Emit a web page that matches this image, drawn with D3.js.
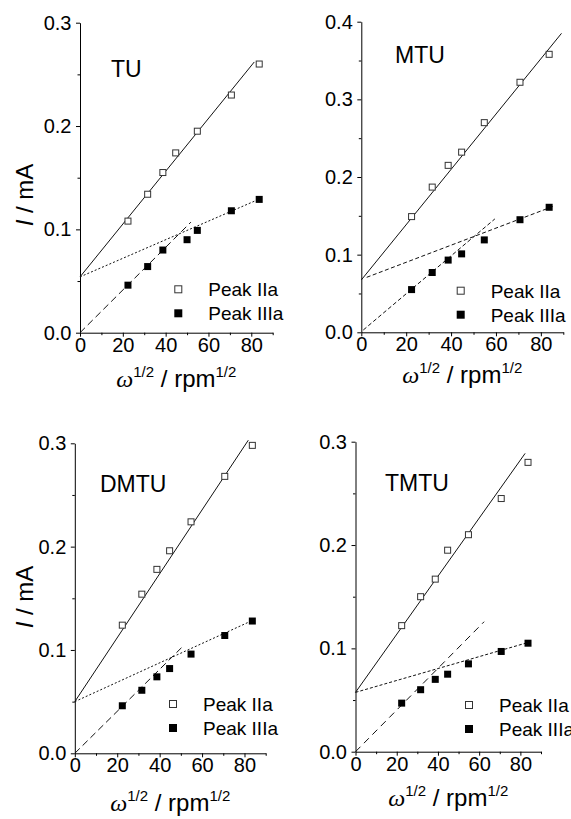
<!DOCTYPE html>
<html lang="en">
<head>
<meta charset="utf-8">
<title>Levich plots: TU, MTU, DMTU, TMTU</title>
<script src="https://cdn.jsdelivr.net/npm/d3@7"></script>
<style>
body { margin: 0; background: #fff; }
svg { display: block; }
text { font-family: "Liberation Sans", Arial, sans-serif; fill: #000; }
</style>
</head>
<body>
<script>
// omega^1/2 (rpm^1/2) for 500 ... 7000 rpm
var rootRpm = [22.4, 31.6, 38.7, 44.7, 54.8, 70.7, 83.7];
var rootRpmTU = [22.4, 31.6, 38.7, 50.0, 54.8, 70.7, 83.7];

// peak currents, mA
var tuIIa = [0.108, 0.134, 0.155, 0.174, 0.195, 0.230, 0.260];
var tuIIIa = [0.046, 0.064, 0.080, 0.090, 0.099, 0.118, 0.129];
var mtuIIa = [0.149, 0.187, 0.215, 0.232, 0.270, 0.322, 0.358];
var mtuIIIa = [0.055, 0.077, 0.093, 0.101, 0.119, 0.145, 0.161];
var dmtuIIa = [0.124, 0.154, 0.178, 0.196, 0.224, 0.268, 0.298];
var dmtuIIIa = [0.046, 0.061, 0.074, 0.082, 0.096, 0.114, 0.128];
var tmtuIIa = [0.122, 0.150, 0.167, 0.195, 0.210, 0.245, 0.280];
var tmtuIIIa = [0.047, 0.060, 0.070, 0.075, 0.085, 0.097, 0.105];

// fitted lines: [start, end] in data units
var tuSolid = [[0, 0.054], [81.4, 0.262]];
var tuShort = [[0, 0.054], [85.6, 0.131]];
var tuLong = [[0, 0], [51.8, 0.107]];
var mtuSolid = [[0, 0.0674], [89.2, 0.385]];
var mtuShort = [[2.4, 0.0708], [86.2, 0.163]];
var mtuLong = [[0.9, 0.003], [59.5, 0.146]];
var dmtuSolid = [[0, 0.05], [81.8, 0.303]];
var dmtuShort = [[0, 0.05], [84.2, 0.129]];
var dmtuLong = [[0, 0], [51.2, 0.104]];
var tmtuSolid = [[0, 0.0574], [82.3, 0.2887]];
var tmtuShort = [[0, 0.0574], [83.4, 0.1055]];
var tmtuLong = [[0, 0], [62.4, 0.1258]];

var names = ["TU", "MTU", "DMTU", "TMTU"];
var legendLabels = ["Peak IIa", "Peak IIIa"];
var xTicks = [0, 20, 40, 60, 80];
var xMinor = [10, 30, 50, 70, 90];
var yTicks3 = [0, 0.1, 0.2, 0.3];
var yMinor3 = [0.05, 0.15, 0.25];
var yTicks4 = [0, 0.1, 0.2, 0.3, 0.4];
var yMinor4 = [0.05, 0.15, 0.25, 0.35];

var panels = [
    {name: names[0], xIIa: rootRpm, xIIIa: rootRpmTU, IIa: tuIIa, IIIa: tuIIIa,
     fits: [tuSolid, tuShort, tuLong], yMax: 0.3, yTicks: yTicks3, yMinor: yMinor3},
    {name: names[1], xIIa: rootRpm, xIIIa: rootRpm, IIa: mtuIIa, IIIa: mtuIIIa,
     fits: [mtuSolid, mtuShort, mtuLong], yMax: 0.4, yTicks: yTicks4, yMinor: yMinor4},
    {name: names[2], xIIa: rootRpm, xIIIa: rootRpm, IIa: dmtuIIa, IIIa: dmtuIIIa,
     fits: [dmtuSolid, dmtuShort, dmtuLong], yMax: 0.3, yTicks: yTicks3, yMinor: yMinor3},
    {name: names[3], xIIa: rootRpm, xIIIa: rootRpm, IIa: tmtuIIa, IIIa: tmtuIIIa,
     fits: [tmtuSolid, tmtuShort, tmtuLong], yMax: 0.3, yTicks: yTicks3, yMinor: yMinor3}
];

// page layout of each panel
var layout = [
    {x0: 80, x1: 272.7, y0: 332.7, y1: 22.7, label: [111, 77], leg: [178.3, 289.3],
     xTitle: 387, yTitle: [33, 195], dashes: [null, "2,2", "7,4"]},
    {x0: 361.3, x1: 563.3, y0: 332.3, y1: 21.7, label: [395, 63], leg: [460.7, 290.7],
     xTitle: 383, yTitle: null, dashes: [null, "4,2.5", "4,2.5"]},
    {x0: 74.8, x1: 265.7, y0: 753.3, y1: 443.3, label: [100, 492], leg: [173, 704],
     xTitle: 811, yTitle: [33, 597], dashes: [null, "2,2", "7,4"]},
    {x0: 355.5, x1: 541, y0: 751.7, y1: 441.7, label: [385, 491], leg: [469, 705],
     xTitle: 806, yTitle: null, dashes: [null, "3,2", "7,5"]}
];

var w = 571, h = 819;

var svg = d3.select("body")
    .append("svg")
    .attr("width", w)
    .attr("height", h);

var line = d3.line();

panels.forEach(function(p, i) {
    var L = layout[i];
    var x = d3.scaleLinear().domain([0, 90]).range([L.x0, L.x1]);
    var y = d3.scaleLinear().domain([0, p.yMax]).range([L.y0, L.y1]);

    var g = svg.append("g");

    // minor ticks first, then major axis with labels
    g.append("g")
        .attr("transform", "translate(0," + L.y0 + ")")
        .call(d3.axisBottom(x).tickValues(xMinor).tickSize(2.5).tickFormat(""))
        .call(function(a) { a.select(".domain").remove(); });
    g.append("g")
        .attr("transform", "translate(" + L.x0 + ",0)")
        .call(d3.axisLeft(y).tickValues(p.yMinor).tickSize(2.5).tickFormat(""))
        .call(function(a) { a.select(".domain").remove(); });

    var xa = g.append("g")
        .attr("transform", "translate(0," + L.y0 + ")")
        .call(d3.axisBottom(x).tickValues(xTicks).tickSize(4).tickSizeOuter(0).tickPadding(1).tickFormat(d3.format("d")));
    var ya = g.append("g")
        .attr("transform", "translate(" + L.x0 + ",0)")
        .call(d3.axisLeft(y).tickValues(p.yTicks).tickSize(4).tickSizeOuter(0).tickPadding(4.5).tickFormat(d3.format(".1f")));

    g.selectAll(".tick line, .domain").attr("stroke", "#000").attr("stroke-width", 1);
    [xa, ya].forEach(function(a) {
        a.selectAll("text")
            .style("font-family", "'Liberation Sans', Arial, sans-serif")
            .style("font-size", "20px")
            .attr("fill", "#000");
    });

    // fit lines
    p.fits.forEach(function(f, k) {
        g.append("path")
            .attr("d", line(f.map(function(d) { return [x(d[0]), y(d[1])]; })))
            .attr("fill", "none")
            .attr("stroke", "#111")
            .attr("stroke-width", 1)
            .attr("stroke-dasharray", L.dashes[k]);
    });

    // Peak IIa, open squares
    g.selectAll("rect.iia")
        .data(p.IIa)
        .enter()
        .append("rect")
        .attr("class", "iia")
        .attr("x", function(d, j) { return x(p.xIIa[j]) - 3; })
        .attr("y", function(d) { return y(d) - 3; })
        .attr("width", 6)
        .attr("height", 6)
        .attr("fill", "#fff")
        .attr("stroke", "#333")
        .attr("stroke-width", 1);

    // Peak IIIa, filled squares
    g.selectAll("rect.iiia")
        .data(p.IIIa)
        .enter()
        .append("rect")
        .attr("class", "iiia")
        .attr("x", function(d, j) { return x(p.xIIIa[j]) - 3.5; })
        .attr("y", function(d) { return y(d) - 3.5; })
        .attr("width", 7)
        .attr("height", 7)
        .attr("fill", "#000");

    // compound name
    g.append("text")
        .attr("x", L.label[0])
        .attr("y", L.label[1])
        .style("font-size", "23px")
        .text(p.name);

    // legend
    legendLabels.forEach(function(lab, k) {
        var cy = L.leg[1] + k * 24;
        if (k === 0) {
            g.append("rect")
                .attr("x", L.leg[0] - 3.5).attr("y", cy - 3.5)
                .attr("width", 7).attr("height", 7)
                .attr("fill", "#fff").attr("stroke", "#333");
        } else {
            g.append("rect")
                .attr("x", L.leg[0] - 4).attr("y", cy - 4)
                .attr("width", 8).attr("height", 8)
                .attr("fill", "#000");
        }
        g.append("text")
            .attr("x", L.leg[0] + 30)
            .attr("y", cy + 6.8)
            .style("font-size", "19px")
            .text(lab);
    });

    // x title: omega^1/2 / rpm^1/2
    var xt = g.append("text")
        .attr("x", (L.x0 + L.x1) / 2)
        .attr("y", L.xTitle)
        .attr("text-anchor", "middle")
        .style("font-size", "24px");
    xt.append("tspan")
        .style("font-family", "'Liberation Serif', 'Times New Roman', serif")
        .style("font-style", "italic")
        .text("\u03c9");
    xt.append("tspan").attr("dy", -10).style("font-size", "15px").text("1/2");
    xt.append("tspan").attr("dy", 10).text(" / rpm");
    xt.append("tspan").attr("dy", -10).style("font-size", "15px").text("1/2");

    // y title
    if (L.yTitle) {
        var yt = g.append("text")
            .attr("transform", "translate(" + L.yTitle[0] + "," + L.yTitle[1] + ") rotate(-90)")
            .attr("text-anchor", "middle")
            .style("font-size", "24px");
        yt.append("tspan").style("font-style", "italic").text("I");
        yt.append("tspan").text(" / mA");
    }
});
</script>
</body>
</html>
